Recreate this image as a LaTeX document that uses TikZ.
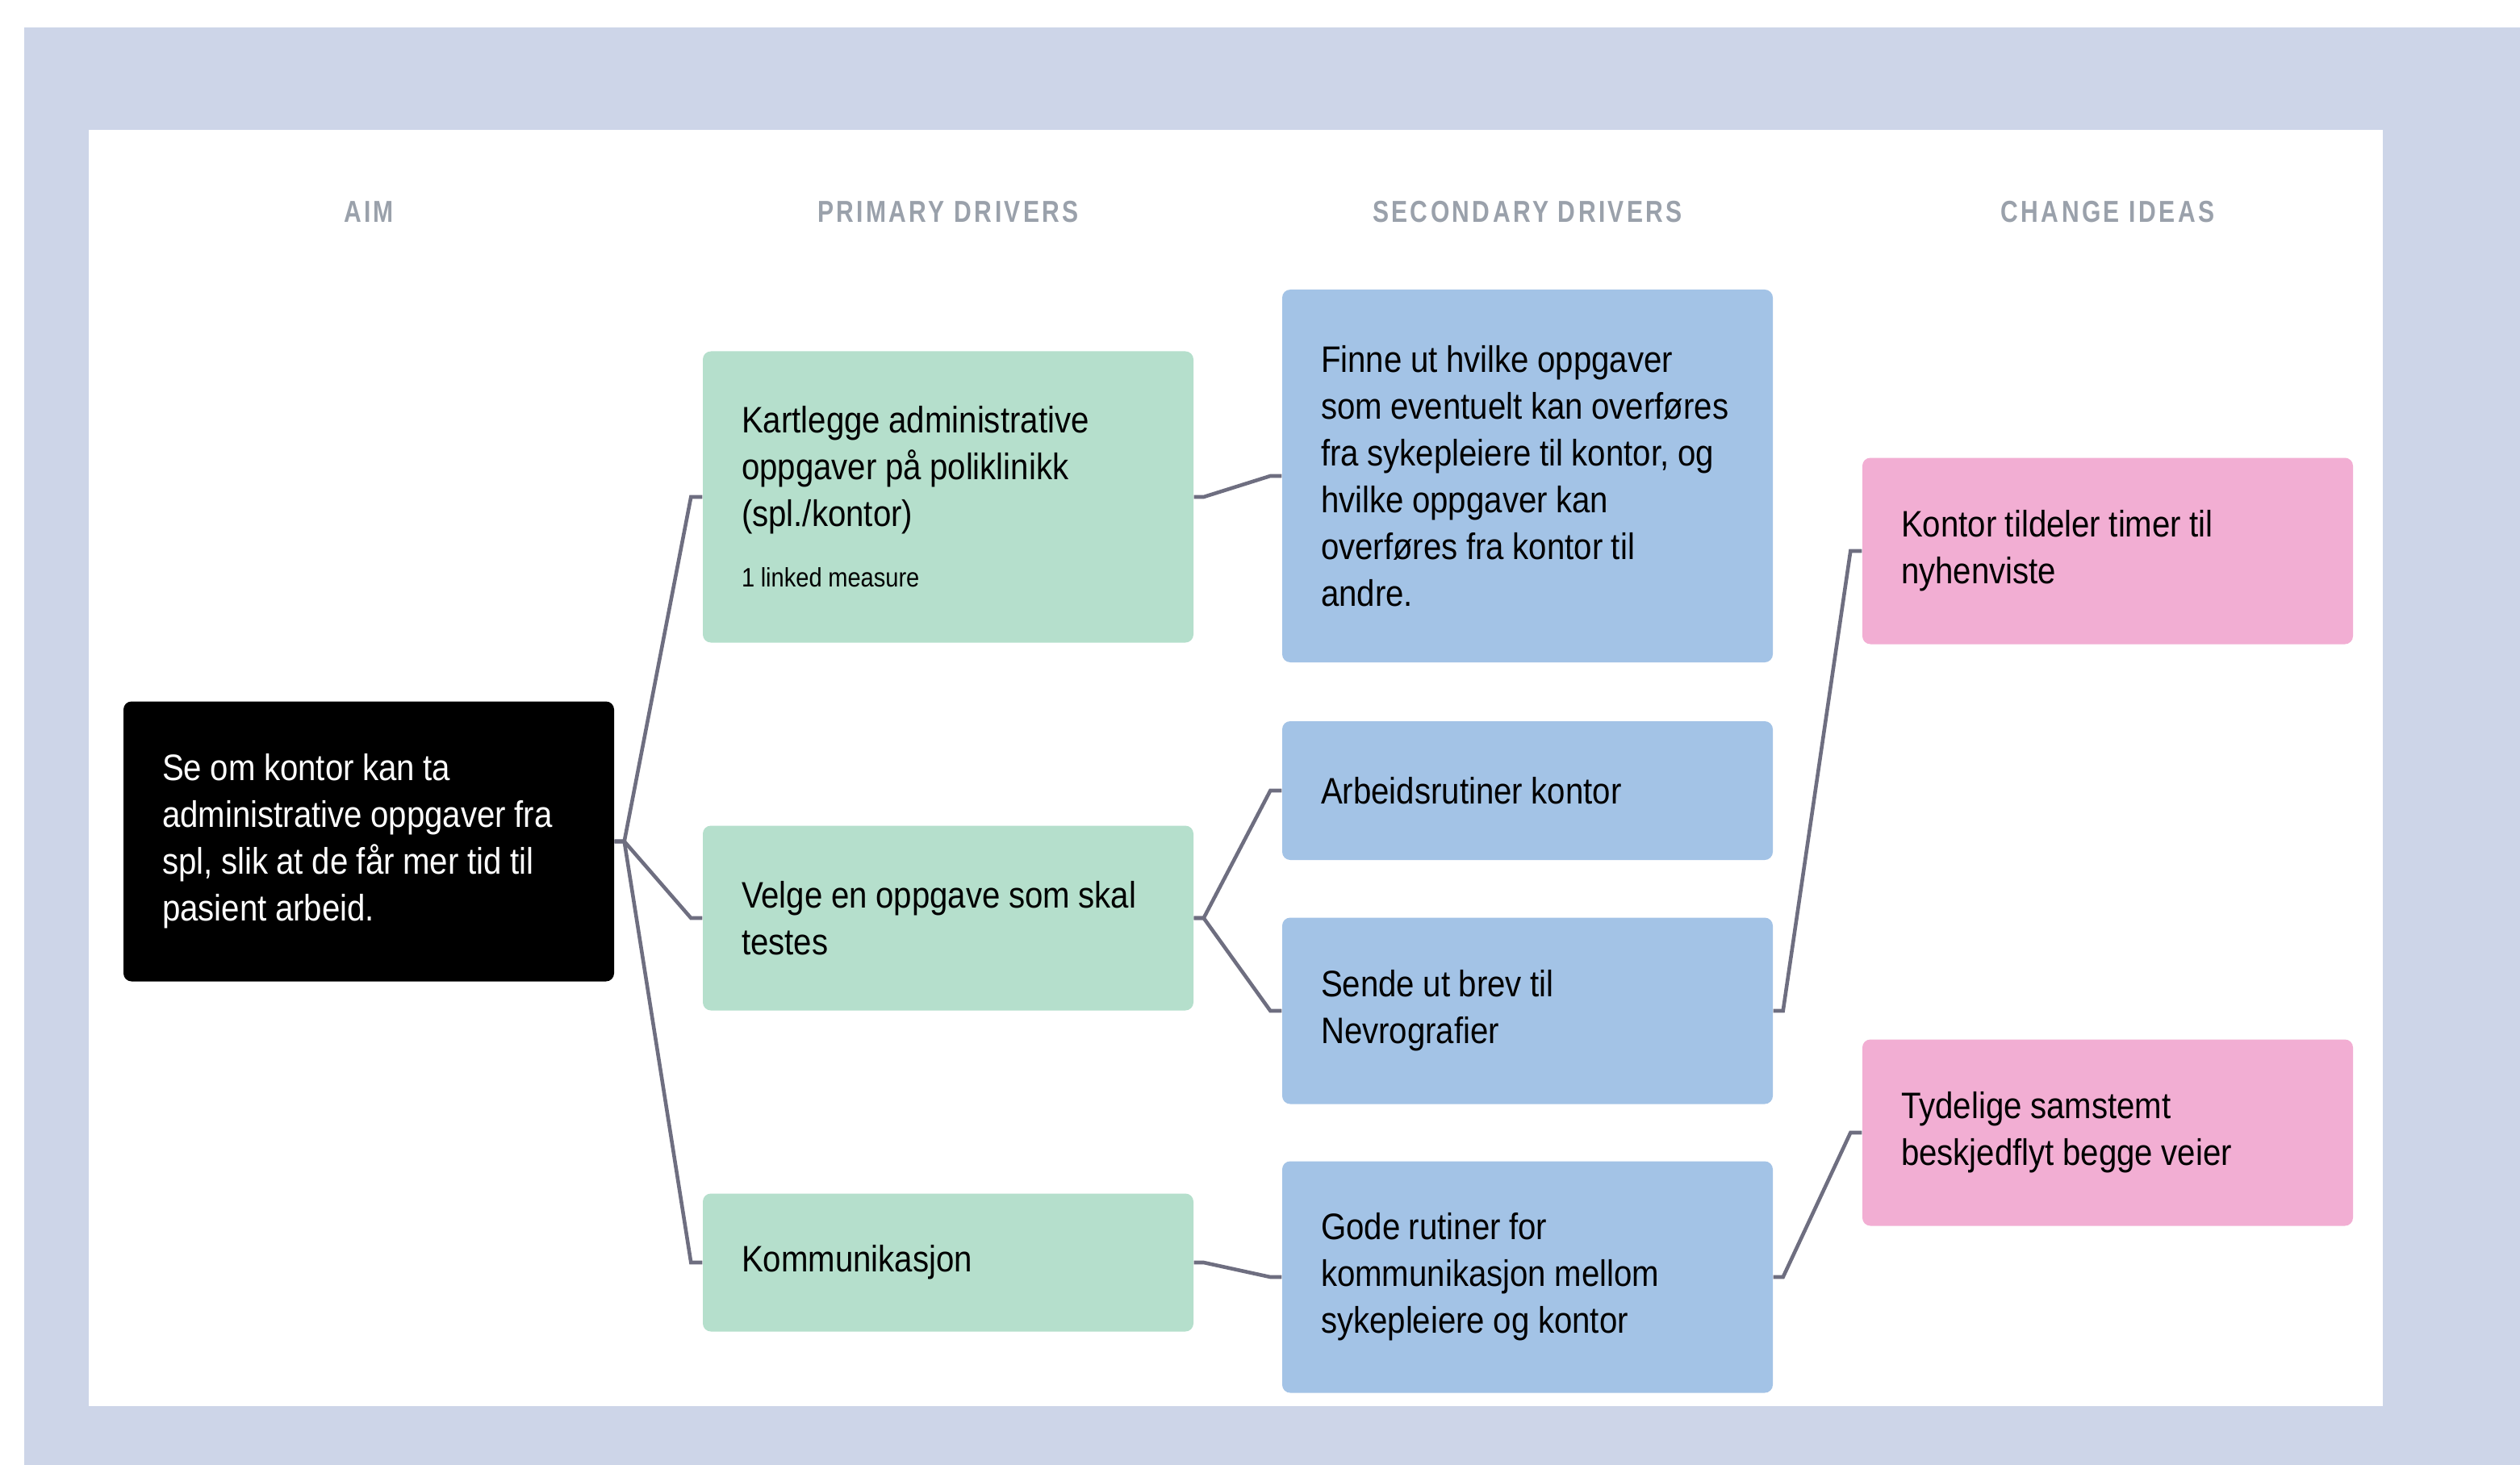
\documentclass[tikz,border=0pt]{standalone}
\usepackage{fontspec}
\setmainfont[FakeStretch=0.88]{Liberation Sans}
\newfontfamily\headfont[LetterSpace=9,FakeStretch=0.8]{Liberation Sans}
\usepackage{xcolor}
\usepackage{tikz}
\usetikzlibrary{positioning,calc}

\definecolor{framebg}{HTML}{CDD5E8}
\definecolor{aimfill}{HTML}{000000}
\definecolor{primfill}{HTML}{B5DFCC}
\definecolor{secfill}{HTML}{A3C3E6}
\definecolor{ideafill}{HTML}{F2AED3}
\definecolor{linkgray}{HTML}{6E6E80}
\definecolor{headgray}{HTML}{9AA1AB}

\newcommand{\boxfont}{\fontsize{13}{16.5}\selectfont}
\newcommand{\smallboxfont}{\fontsize{9.4}{11}\selectfont\spaceskip=0.23em\relax}

\begin{document}
\begin{tikzpicture}[x=1cm, y=-1cm,
    box/.style={rectangle, rounded corners=0.1cm, minimum width=6.08cm,
        text width=5.12cm, inner xsep=0.48cm, align=left, font=\boxfont,
        execute at begin node={\spaceskip=0.23em\relax\hyphenpenalty=10000\relax}},
    aimbox/.style={box, fill=aimfill, text=white},
    primbox/.style={box, fill=primfill},
    secbox/.style={box, fill=secfill},
    ideabox/.style={box, fill=ideafill},
    link/.style={draw=linkgray, line width=1.3pt},
    colhead/.style={text=headgray, font=\headfont\bfseries\fontsize{10.7}{12}\selectfont}]
    % frame
    \fill[white] (0,0) rectangle (31.23,18.16);
    \fill[framebg] (0.30,0.34) rectangle (31.23,18.16);
    \fill[white] (1.10,1.61) rectangle (29.53,17.43);

    % column headings
    \node[colhead] (haim) at (4.57,2.63) {AIM};
    \node[colhead] (hprim) at (11.75,2.63) {PRIMARY DRIVERS};
    \node[colhead] (hsec) at (18.93,2.63) {SECONDARY DRIVERS};
    \node[colhead] (hidea) at (26.12,2.63) {CHANGE IDEAS};

    % aim
    \node[aimbox, minimum height=3.47cm] (aim) at (4.57,10.43)
        {Se om kontor kan ta\\administrative oppgaver fra\\spl, slik at de får mer tid til\\pasient arbeid.};

    % primary drivers
    \node[primbox, minimum height=3.61cm] (p1) at (11.75,6.16)
        {Kartlegge administrative\\oppgaver på poliklinikk\\(spl./kontor)\\[0.17cm]{\smallboxfont 1 linked measure}};
    \node[primbox, minimum height=2.29cm] (p2) at (11.75,11.38)
        {Velge en oppgave som skal\\testes};
    \node[primbox, minimum height=1.71cm] (p3) at (11.75,15.65)
        {Kommunikasjon};

    % secondary drivers
    \node[secbox, minimum height=4.62cm] (s1) at (18.93,5.90)
        {Finne ut hvilke oppgaver\\som eventuelt kan overføres\\fra sykepleiere til kontor, og\\hvilke oppgaver kan\\overføres fra kontor til\\andre.};
    \node[secbox, minimum height=1.72cm] (s2) at (18.93,9.80)
        {Arbeidsrutiner kontor};
    \node[secbox, minimum height=2.31cm] (s3) at (18.93,12.53)
        {Sende ut brev til\\Nevrografier};
    \node[secbox, minimum height=2.87cm] (s4) at (18.93,15.83)
        {Gode rutiner for\\kommunikasjon mellom\\sykepleiere og kontor};

    % change ideas
    \node[ideabox, minimum height=2.31cm] (c1) at (26.12,6.83)
        {Kontor tildeler timer til\\nyhenviste};
    \node[ideabox, minimum height=2.31cm] (c2) at (26.12,14.04)
        {Tydelige samstemt\\beskjedflyt begge veier};

    % connectors
    \foreach \a/\b in {aim/p1, aim/p2, aim/p3, p1/s1, p2/s2, p2/s3, p3/s4, s3/c1, s4/c2}
        \draw[link] (\a.east) -- ++(0.12,0) -- ([xshift=-0.14cm]\b.west) -- (\b.west);
\end{tikzpicture}
\end{document}
